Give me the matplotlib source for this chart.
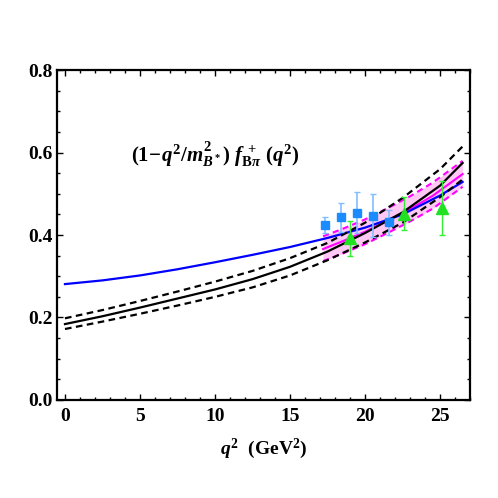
import matplotlib
matplotlib.use('Agg')
import matplotlib.pyplot as plt
from matplotlib.ticker import MultipleLocator

plt.rcParams['font.family'] = 'Liberation Serif'
plt.rcParams['font.weight'] = 'bold'
plt.rcParams['mathtext.fontset'] = 'custom'
plt.rcParams['mathtext.rm'] = 'Liberation Serif:bold'
plt.rcParams['mathtext.it'] = 'Liberation Serif:bold:italic'
plt.rcParams['mathtext.bf'] = 'Liberation Serif:bold'

# curves
q2_curve = [0, 2.5, 5, 7.5, 10, 12.5, 15, 17.5, 20, 22.5, 25, 26.5]
f_central = [0.184, 0.203, 0.224, 0.246, 0.268, 0.293, 0.323, 0.360, 0.405, 0.455, 0.520, 0.575]
f_upper = [0.198, 0.218, 0.240, 0.263, 0.287, 0.313, 0.344, 0.381, 0.430, 0.490, 0.560, 0.615]
f_lower = [0.172, 0.190, 0.209, 0.229, 0.250, 0.273, 0.302, 0.339, 0.382, 0.430, 0.492, 0.535]
f_blue = [0.281, 0.290, 0.302, 0.317, 0.334, 0.352, 0.371, 0.393, 0.418, 0.450, 0.496, 0.529]

# pink band (lattice fit)
q2_band = [17.2, 18.5, 20, 21.5, 23, 24.5, 26.5]
band_mid = [0.366, 0.385, 0.408, 0.435, 0.463, 0.495, 0.548]
band_hi = [0.397, 0.415, 0.438, 0.465, 0.494, 0.527, 0.580]
band_lo = [0.337, 0.355, 0.378, 0.405, 0.433, 0.464, 0.517]

# data points
sq_q2 = [17.35, 18.4, 19.45, 20.5, 21.6]
sq_f = [0.424, 0.443, 0.454, 0.447, 0.431]
sq_err = [0.020, 0.035, 0.050, 0.052, 0.030]

tri_q2 = [19.0, 22.6, 25.1]
tri_f = [0.392, 0.452, 0.466]
tri_err = [0.042, 0.040, 0.066]

fig = plt.figure(figsize=(4.98, 4.98), dpi=100)
ax = fig.add_axes([0.1145, 0.197, 0.8295, 0.662])

ax.fill_between(q2_band, band_lo, band_hi, color='#ffc8f5', lw=0, zorder=1)
ax.plot(q2_band, band_mid, color='#ff00ff', lw=1.5, zorder=2)
ax.plot(q2_band, band_hi, color='#ff00ff', lw=1.5, dashes=(3, 2), zorder=2)
ax.plot(q2_band, band_lo, color='#ff00ff', lw=1.5, dashes=(3, 2), zorder=2)

ax.plot(q2_curve, f_blue, color='#0000ff', lw=1.6, zorder=3)
ax.plot(q2_curve, f_central, color='black', lw=1.6, zorder=3)
ax.plot(q2_curve, f_upper, color='black', lw=1.6, dashes=(3, 2), zorder=3)
ax.plot(q2_curve, f_lower, color='black', lw=1.6, dashes=(3, 2), zorder=3)

ax.errorbar(sq_q2, sq_f, yerr=sq_err, fmt='s', color='#1a8cff', ecolor='#80bfff',
            ms=6, elinewidth=1.2, capsize=2.5, capthick=1.0, zorder=4)
ax.errorbar(tri_q2, tri_f, yerr=tri_err, fmt='^', color='#22e022', ecolor='#33ee33',
            ms=9, elinewidth=1.0, capsize=2.5, capthick=1.0, zorder=5)

ax.text(10.0, 0.594, r'$(1\!-\!q^2/m^2_{B^*})\ f^{\,+}_{\mathrm{B}\pi}\ (q^2)$',
        fontsize=15, ha='center', va='center')

ax.set_xlim(-0.53, 27.0)
ax.set_ylim(0, 0.8)
ax.xaxis.set_major_locator(MultipleLocator(5))
ax.xaxis.set_minor_locator(MultipleLocator(1))
ax.yaxis.set_major_locator(MultipleLocator(0.2))
ax.yaxis.set_minor_locator(MultipleLocator(0.05))
ax.yaxis.set_major_formatter(plt.FuncFormatter(lambda v, p: f'{v:.1f}'))
ax.tick_params(which='both', direction='in', top=True, right=True, width=1.0)
ax.tick_params(which='major', length=4, labelsize=14)
ax.tick_params(axis='x', which='major', pad=6)
ax.tick_params(axis='y', which='major', pad=3)
ax.tick_params(which='minor', length=2.5)
for s in ax.spines.values():
    s.set_linewidth(1.6)

ax.set_xlabel(r'$q^2\ \ (\mathrm{GeV}^2)$', fontsize=14, labelpad=8)

fig.savefig('out.png', dpi=100)
